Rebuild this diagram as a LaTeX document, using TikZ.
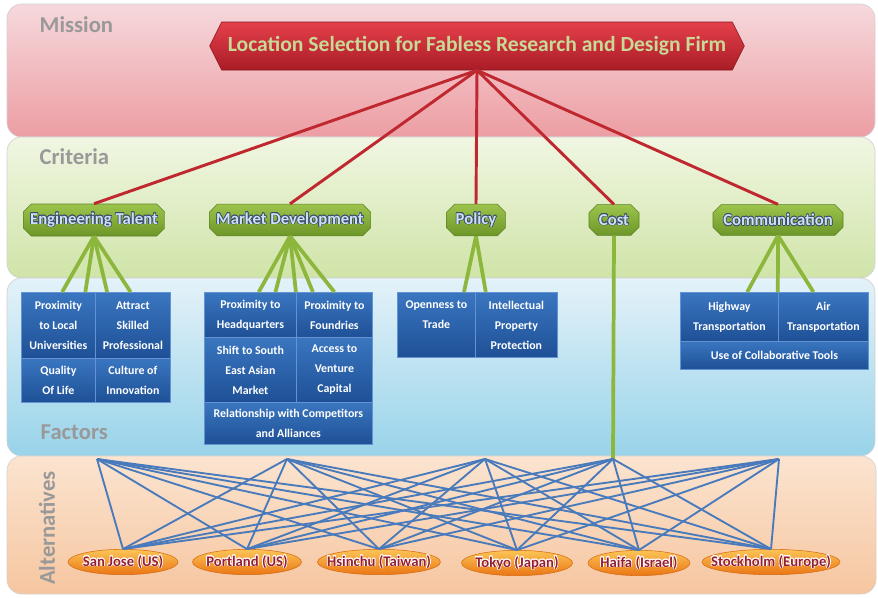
\documentclass[tikz,border=0pt]{standalone}
\usepackage{fontspec}
\setmainfont{Carlito}
\usepackage{contour}
\contourlength{0.45pt}
\usetikzlibrary{shapes.symbols,shapes.misc,shapes.geometric,calc}

% Couleurs des bandes
\definecolor{missiontop}{RGB}{246,216,220}
\definecolor{missionbot}{RGB}{236,158,163}
\definecolor{crittopband}{RGB}{240,246,226}
\definecolor{critbotband}{RGB}{208,228,168}
\definecolor{facttop}{RGB}{228,242,249}
\definecolor{factbot}{RGB}{152,211,233}
\definecolor{alttop}{RGB}{251,228,208}
\definecolor{altbot}{RGB}{246,198,160}
% Couleurs des noeuds et des liens
\definecolor{bannertop}{RGB}{228,64,74}
\definecolor{bannerbot}{RGB}{170,28,38}
\definecolor{bannertext}{RGB}{200,216,150}
\definecolor{crittop}{RGB}{156,196,76}
\definecolor{critbot}{RGB}{108,150,40}
\definecolor{critedge}{RGB}{92,128,36}
\definecolor{crittext}{RGB}{206,224,246}
\definecolor{critline}{RGB}{58,78,108}
\definecolor{celltop}{RGB}{58,118,192}
\definecolor{cellbot}{RGB}{30,80,150}
\definecolor{celledge}{RGB}{100,146,210}
\definecolor{citytop}{RGB}{252,196,86}
\definecolor{citybot}{RGB}{234,118,20}
\definecolor{cityedge}{RGB}{214,106,18}
\definecolor{citytext}{RGB}{150,30,52}
\definecolor{redlinkc}{RGB}{192,40,48}
\definecolor{greenlinkc}{RGB}{140,182,60}
\definecolor{bluelinkc}{RGB}{72,122,188}

\begin{document}
\begin{tikzpicture}[
    x=0.75pt, y=-0.75pt,
    band/.style={rounded corners=11pt, draw=gray!35, line width=0.5pt},
    bandlabel/.style={text=gray!80, font=\bfseries\fontsize{17}{19}\selectfont},
    banner/.style={signal, signal to=west and east, signal pointer angle=127,
        top color=bannertop, bottom color=bannerbot, draw=bannerbot!80!black,
        minimum width=401pt, minimum height=36pt, text=bannertext,
        font=\bfseries\fontsize{16.2}{18}\selectfont},
    criterion/.style={chamfered rectangle, chamfered rectangle xsep=3pt,
        chamfered rectangle ysep=3pt, top color=crittop, bottom color=critbot,
        draw=critedge, minimum height=23pt, inner xsep=2pt, text=crittext,
        font=\bfseries\fontsize{12.5}{14}\selectfont},
    cell/.style 2 args={draw=celledge, line width=0.6pt, top color=celltop,
        bottom color=cellbot, text=white, anchor=north west, inner sep=0pt,
        align=center, font=\bfseries\fontsize{8.9}{15}\selectfont,
        minimum width=#1*0.75pt, minimum height=#2*0.75pt},
    city/.style={ellipse, top color=citytop, bottom color=citybot,
        draw=cityedge, inner sep=0pt, minimum width=#1*0.75pt,
        minimum height=19pt, text=citytext,
        font=\bfseries\fontsize{11}{13}\selectfont},
    redlink/.style={redlinkc, line width=2.2pt},
    greenlink/.style={greenlinkc, line width=2.8pt},
    bluelink/.style={bluelinkc, line width=1.4pt}
]
\useasboundingbox (0,0) rectangle (878,597);

% Les quatre bandes
\draw[band, top color=missiontop, bottom color=missionbot] (7,4) rectangle (875,137);
\draw[band, top color=crittopband, bottom color=critbotband] (7,137) rectangle (875,278);
\draw[band, top color=facttop, bottom color=factbot] (7,278) rectangle (875,456);
\draw[band, top color=alttop, bottom color=altbot] (7,456) rectangle (876,594);

\node[bandlabel, anchor=west] (lmission) at (35,25) {Mission};
\node[bandlabel, anchor=west] (lcriteria) at (35,157) {Criteria};
\node[bandlabel, anchor=west] (lfactors) at (36,432) {Factors};
\node[bandlabel, rotate=90] (lalt) at (47,528) {Alternatives};

% Mission
\node[banner] (mission) at (477,46) {Location Selection for Fabless Research and Design Firm};

% Critères
\node[criterion, minimum width=106pt] (et) at (94,220) {\contour{critline}{Engineering Talent}};
\node[criterion, minimum width=121pt] (md) at (290,220) {\contour{critline}{Market Development}};
\node[criterion, minimum width=44pt] (po) at (476,220) {\contour{critline}{Policy}};
\node[criterion, minimum width=37.5pt] (co) at (614,220) {\contour{critline}{Cost}};
\node[criterion, minimum width=97.5pt] (cm) at (778,220) {\contour{critline}{Communication}};

% Facteurs
\node[cell={74}{66}] (et1) at (21,292) {Proximity\\to Local\\Universities};
\node[cell={75}{66}] (et2) at (95,292) {Attract\\Skilled\\Professional};
\node[cell={74}{44}] (et3) at (21,358) {Quality\\Of Life};
\node[cell={75}{44}] (et4) at (95,358) {Culture of\\Innovation};

\node[cell={92}{45}] (md1) at (204,292) {Proximity to\\Headquarters};
\node[cell={76}{45}] (md2) at (296,292) {Proximity to\\Foundries};
\node[cell={92}{65}] (md3) at (204,337) {Shift to South\\East Asian\\Market};
\node[cell={76}{65}] (md4) at (296,337) {Access to\\Venture\\Capital};
\node[cell={168}{42}] (md5) at (204,402) {Relationship with Competitors\\and Alliances};

\node[cell={78}{65}] (po1) at (397,292) {Openness to\\Trade\\\phantom{Protection}};
\node[cell={82}{65}] (po2) at (475,292) {Intellectual\\Property\\Protection};

\node[cell={98}{49}] (cm1) at (680,292) {Highway\\Transportation};
\node[cell={90}{49}] (cm2) at (778,292) {Air\\Transportation};
\node[cell={188}{28}] (cm3) at (680,341) {Use of Collaborative Tools};

% Alternatives
\node[city=110] (sj) at (123,562) {\makebox[0pt]{\contour{white}{San Jose (US)}}};
\node[city=109] (pd) at (247,562) {\makebox[0pt]{\contour{white}{Portland (US)}}};
\node[city=123] (hs) at (379,562) {\makebox[0pt]{\contour{white}{Hsinchu (Taiwan)}}};
\node[city=111] (tk) at (517,563) {\makebox[0pt]{\contour{white}{Tokyo (Japan)}}};
\node[city=102] (hf) at (639,563) {\makebox[0pt]{\contour{white}{Haifa (Israel)}}};
\node[city=138] (sh) at (771,562) {\makebox[0pt]{\contour{white}{Stockholm (Europe)}}};

% Points de départ des liens vers les alternatives
\coordinate (a1) at (97,459);
\coordinate (a2) at (287,459);
\coordinate (a3) at (485,459);
\coordinate (a4) at (613,459);
\coordinate (a5) at (779,459);

% Liens mission -> critères
\foreach \c in {et,md,po,co,cm}
    \draw[redlink] (mission.south) -- (\c.north);

% Liens critères -> facteurs
\foreach \n/\c/\f in {et/et1/.55, et/et1/.86, et/et2/.16, et/et2/.47,
        md/md1/.59, md/md1/.77, md/md1/.99, md/md2/.22, md/md2/.5,
        po/po1/.85, po/po2/.13, cm/cm1/.68, cm/cm1/.99, cm/cm2/.39}
    \draw[greenlink] (\n.south) -- ($(\c.north west)!\f!(\c.north east)$);
\draw[greenlink] (co.south) -- (a4);

% Liens vers les alternatives
\foreach \h in {a1,a2,a3,a4,a5}
    \foreach \t in {sj,pd,hs,tk,hf,sh}
        \draw[bluelink] (\h) -- (\t.north);

\end{tikzpicture}
\end{document}
